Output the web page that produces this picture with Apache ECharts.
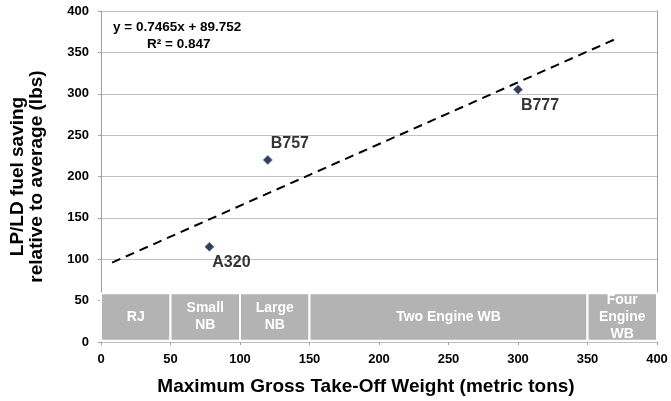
<!DOCTYPE html>
<html>
<head>
<meta charset="utf-8">
<script src="https://cdn.jsdelivr.net/npm/echarts@6/dist/echarts.min.js"></script>
<style>
  html, body { margin: 0; padding: 0; background: #fff; }
  #chart { width: 671px; height: 401px; }
</style>
</head>
<body>
<div id="chart"></div>
<script>
// aircraft points (MTOW in metric tons, fuel saving in lbs)
const aircraftNames = ['A320', 'B757', 'B777']
const aircraftMtow = [78, 120, 300]
const aircraftSaving = [115, 220, 305]
// fitted trendline end points
const trendX = [8, 370]
const trendY = [96, 366]
// aircraft class bands along the x axis
const bandNames = ['RJ', 'Small\nNB', 'Large\nNB', 'Two Engine WB', 'Four\nEngine\nWB']
const bandStart = [0, 50, 100, 150, 350]
const bandEnd = [50, 100, 150, 350, 400]
const bandLow = 1.5
const bandHigh = 59

const font = 'Arial'
const chart = echarts.init(document.getElementById('chart'))

const labelPos = ['bottom', 'top', 'bottom']
const pointData = aircraftMtow.map((x, i) => ({
  value: [x, aircraftSaving[i]],
  name: aircraftNames[i],
  label: {
    position: labelPos[i],
    distance: i === 1 ? 1 : 5,
    offset: [22, -2]
  }
}))

const option = {
  animation: false,
  textStyle: { fontFamily: font },
  grid: { left: 101, right: 14, top: 11, bottom: 58, containLabel: false },
  xAxis: {
    type: 'value',
    min: 0, max: 400, interval: 50,
    name: 'Maximum Gross Take-Off Weight (metric tons)',
    nameLocation: 'middle',
    nameGap: 35,
    nameTextStyle: { fontSize: 19, fontWeight: 'bold', color: '#000', fontFamily: font, padding: [0, 26, 0, 0] },
    axisLine: { show: false },
    axisTick: { show: true, length: 3, lineStyle: { color: '#a0a0a0' } },
    axisLabel: { fontSize: 13, fontWeight: 'bold', color: '#000', margin: 11, fontFamily: font },
    splitLine: { show: false }
  },
  yAxis: [
    {
      type: 'value',
      min: 0, max: 400, interval: 50,
      name: 'LP/LD fuel saving\nrelative to average (lbs)',
      nameLocation: 'middle',
      nameGap: 54,
      nameTextStyle: { fontSize: 19, fontWeight: 'bold', color: '#000', lineHeight: 19.5, fontFamily: font },
      axisLine: { show: true, lineStyle: { color: '#a0a0a0' } },
      axisTick: { show: true, length: 3, lineStyle: { color: '#a0a0a0' } },
      axisLabel: { fontSize: 13, fontWeight: 'bold', color: '#000', margin: 12, fontFamily: font },
      splitLine: { show: true, lineStyle: { color: '#c0c0c0', width: 1 } }
    },
    {
      type: 'value',
      min: 0, max: 400, position: 'right',
      axisLine: { show: true, lineStyle: { color: '#a0a0a0' } },
      axisTick: { show: false },
      axisLabel: { show: false },
      splitLine: { show: false }
    }
  ],
  graphic: [
    {
      type: 'text', left: 113, top: 20,
      style: { text: 'y = 0.7465x + 89.752', fill: '#000', font: 'bold 13.5px ' + font }
    },
    {
      type: 'text', left: 147, top: 37,
      style: { text: 'R² = 0.847', fill: '#000', font: 'bold 13.5px ' + font }
    }
  ],
  series: [
    {
      type: 'line',
      data: trendX.map((x, i) => [x, trendY[i]]),
      symbol: 'none',
      lineStyle: { color: '#000', width: 2, type: [9, 6] },
      z: 3,
      markArea: {
        silent: true,
        itemStyle: { color: '#b3b3b3', borderColor: '#fff', borderWidth: 2 },
        label: {
          position: 'inside',
          color: '#fff',
          fontSize: 14,
          fontWeight: 'bold',
          lineHeight: 17,
          fontFamily: font
        },
        data: bandNames.map((n, i) => [
          { name: n, coord: [bandStart[i], bandHigh] },
          { coord: [bandEnd[i], bandLow] }
        ])
      }
    },
    {
      type: 'scatter',
      data: pointData,
      symbol: 'diamond',
      symbolSize: 9,
      itemStyle: { color: '#0a0c22', borderColor: '#3c7fc4', borderWidth: 1 },
      label: {
        show: true,
        formatter: '{b}',
        fontSize: 16,
        fontWeight: 'bold',
        color: '#000',
        fontFamily: font
      },
      z: 4
    }
  ]
}

chart.setOption(option)
</script>
</body>
</html>
